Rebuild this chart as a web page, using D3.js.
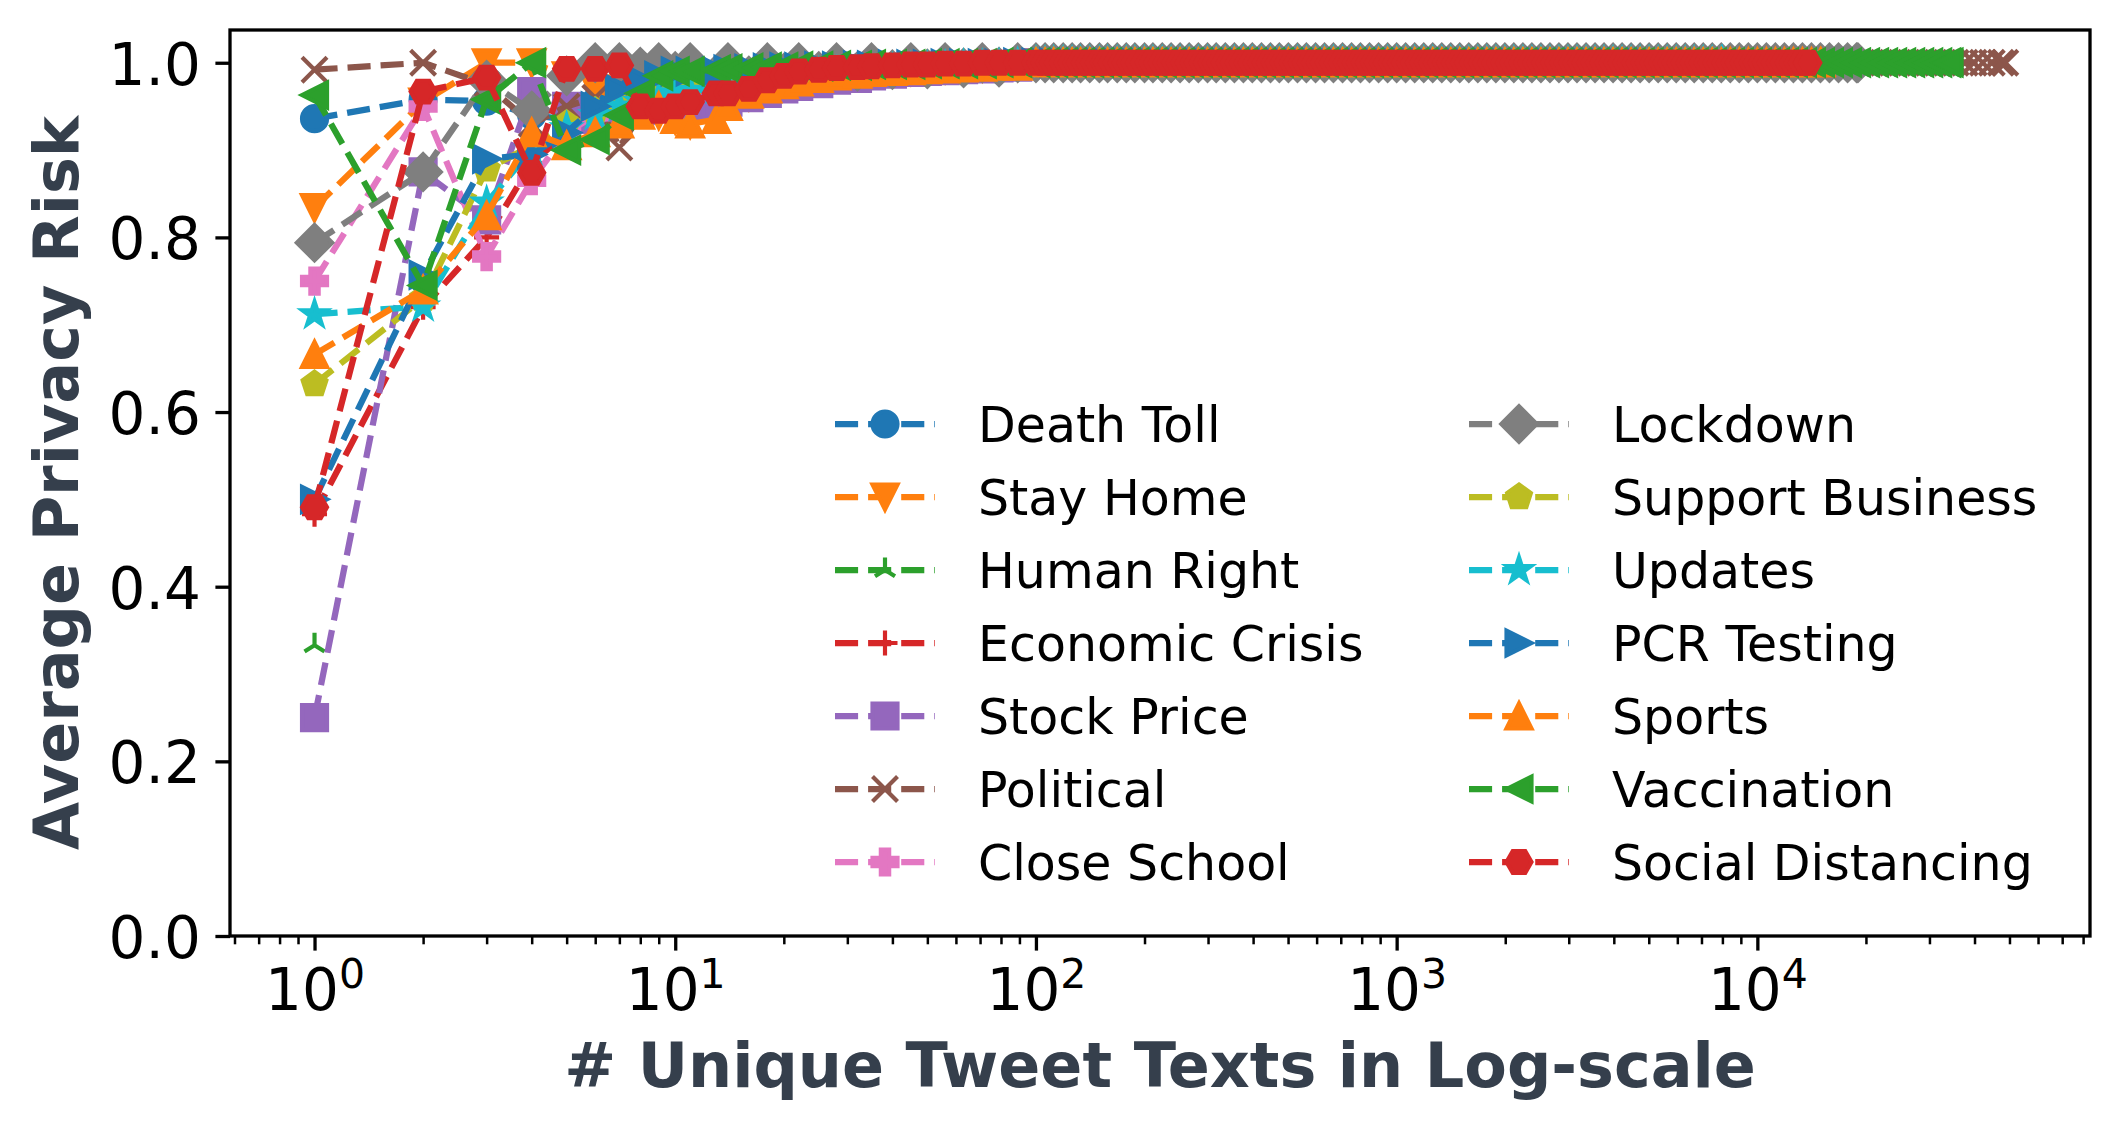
<!DOCTYPE html>
<html>
<head>
<meta charset="utf-8">
<title>Average privacy risk</title>
<script src="https://d3js.org/d3.v7.min.js"></script>
<style>
  body { margin: 0; background: #fff; }
  text { font-family: "DejaVu Sans", sans-serif; }
</style>
</head>
<body>
<script>

var topics = ["Death Toll", "Stay Home", "Human Right", "Economic Crisis", "Stock Price", "Political", "Close School",
              "Lockdown", "Support Business", "Updates", "PCR Testing", "Sports", "Vaccination", "Social Distancing"];
var colors = ["#1f77b4", "#ff7f0e", "#2ca02c", "#d62728", "#9467bd", "#8c564b", "#e377c2",
              "#7f7f7f", "#bcbd22", "#17becf", "#1f77b4", "#ff7f0e", "#2ca02c", "#d62728"];
var markers = ["o", "v", "2", "+", "s", "x", "P", "D", "p", "*", ">", "^", "<", "H"];

// # unique tweet texts, first part (read point by point)
var xHead = [1, 2, 3, 4, 5, 6, 7, 8, 9, 10, 11, 13, 14, 16, 18, 20, 22, 25, 28, 32, 35, 40, 45, 50, 56, 63, 71, 79, 89];

var deathToll        = [0.936, 0.958, 0.956, 0.94, 0.935, 0.955, 0.965, 0.97, 0.975, 0.98, 0.98, 0.985, 0.985, 0.988, 0.99, 0.99, 0.992, 0.992, 0.993, 0.994, 0.995, 0.995, 0.996, 0.996, 0.997, 0.997, 0.998, 0.998, 0.998];
var stayHome         = [0.834, 0.955, 1.0, 1.0, 0.985, 0.97, 0.96, 0.95, 0.94, 0.935, 0.93, 0.945, 0.955, 0.962, 0.97, 0.975, 0.978, 0.982, 0.985, 0.987, 0.989, 0.99, 0.991, 0.992, 0.993, 0.994, 0.995, 0.996, 0.996];
var humanRight       = [0.333];
var economicCrisis   = [0.483, 0.72, 0.80, 0.885, 0.92, 0.935, 0.945, 0.95, 0.955, 0.96, 0.962, 0.965, 0.968, 0.972, 0.975, 0.978, 0.98, 0.983, 0.985, 0.987, 0.988, 0.99, 0.991, 0.992, 0.993, 0.994, 0.995, 0.996, 0.996];
var stockPrice       = [0.25, 0.875, 0.82, 0.967, 0.95, 0.935, 0.94, 0.945, 0.95, 0.95, 0.95, 0.952, 0.955, 0.96, 0.965, 0.97, 0.973, 0.976, 0.98, 0.982, 0.985, 0.987, 0.989, 0.99, 0.991, 0.992, 0.993, 0.994, 0.995];
var political        = [0.992, 1.0, 0.975, 0.93, 0.95, 0.96, 0.903, 0.94, 0.955, 0.965, 0.97, 0.975, 0.978, 0.98, 0.983, 0.985, 0.987, 0.988, 0.99, 0.991, 0.992, 0.993, 0.994, 0.995, 0.995, 0.996, 0.997, 0.997, 0.998];
var closeSchool      = [0.75, 0.95, 0.778, 0.865, 0.92, 0.94, 0.95, 0.96, 0.965, 0.97, 0.972, 0.975, 0.978, 0.98, 0.982, 0.985, 0.987, 0.988, 0.99, 0.991, 0.992, 0.993, 0.994, 0.995, 0.995, 0.996, 0.997, 0.997, 0.998];
var lockdown         = [0.794, 0.875, 0.98, 0.945, 0.985, 1.0, 1.0, 0.995, 1.0, 0.99, 1.0, 0.985, 1.0, 0.985, 1.0, 0.988, 1.0, 0.99, 1.0, 0.99, 1.0, 0.992, 1.0, 0.993, 1.0, 0.994, 1.0, 0.995, 1.0];
var supportBusiness  = [0.632, 0.73, 0.878, 0.905, 0.93, 0.945, 0.955, 0.96, 0.965, 0.97, 0.972, 0.975, 0.978, 0.98, 0.983, 0.985, 0.987, 0.988, 0.99, 0.991, 0.992, 0.993, 0.994, 0.995, 0.995, 0.996, 0.997, 0.997, 0.998];
var updates          = [0.712, 0.721, 0.84, 0.90, 0.925, 0.94, 0.95, 0.955, 0.96, 0.965, 0.968, 0.97, 0.973, 0.976, 0.98, 0.982, 0.985, 0.987, 0.988, 0.99, 0.991, 0.992, 0.993, 0.994, 0.995, 0.996, 0.996, 0.997, 0.998];
var pcrTesting       = [0.50, 0.757, 0.89, 0.895, 0.92, 0.95, 0.97, 0.98, 0.985, 0.99, 0.99, 0.99, 0.992, 0.993, 0.994, 0.995, 0.995, 0.996, 0.996, 0.997, 0.997, 0.998, 0.998, 0.998, 0.999, 0.999, 0.999, 0.999, 1.0];
var sports           = [0.666, 0.74, 0.825, 0.92, 0.905, 0.92, 0.93, 0.94, 0.95, 0.935, 0.93, 0.935, 0.95, 0.964, 0.97, 0.975, 0.978, 0.982, 0.985, 0.987, 0.989, 0.99, 0.991, 0.992, 0.993, 0.994, 0.995, 0.996, 0.996];
var vaccination      = [0.963, 0.745, 0.958, 1.0, 0.90, 0.912, 0.94, 0.965, 0.985, 0.99, 0.99, 0.992, 0.993, 0.994, 0.995, 0.995, 0.996, 0.996, 0.997, 0.997, 0.998, 0.998, 0.998, 0.999, 0.999, 0.999, 0.999, 1.0, 1.0];
var socialDistancing = [0.491, 0.967, 0.983, 0.874, 0.993, 0.993, 0.997, 0.95, 0.945, 0.95, 0.955, 0.965, 0.965, 0.97, 0.98, 0.985, 0.99, 0.992, 0.994, 0.995, 0.996, 0.997, 0.998, 0.998, 0.999, 0.999, 1.0, 1.0, 1.0];

var seriesValues = [deathToll, stayHome, humanRight, economicCrisis, stockPrice, political, closeSchool,
                    lockdown, supportBusiness, updates, pcrTesting, sports, vaccination, socialDistancing];

// after ~100 texts every topic sits on the 1.0 line, sampled 40 per decade up to its last count
var xTail = [100, 106, 112, 119, 126, 133, 141, 150, 158, 168, 178, 188, 200, 211, 224, 237, 251, 266, 282, 299,
             316, 335, 355, 376, 398, 422, 447, 473, 501, 531, 562, 596, 631, 668, 708, 750, 794, 841, 891, 944,
             1000, 1059, 1122, 1189, 1259, 1334, 1413, 1496, 1585, 1679, 1778, 1884, 1995, 2113, 2239, 2371, 2512, 2661, 2818, 2985,
             3162, 3350, 3548, 3758, 3981, 4217, 4467, 4732, 5012, 5309, 5623, 5957, 6310, 6683, 7079, 7499, 7943, 8414, 8913, 9441,
             10000, 10593, 11220, 11885, 12589, 13335, 14125, 14962, 15849, 16788, 17783, 18836, 19953, 21135, 22387, 23714,
             25119, 26607, 28184, 29854, 31623, 33497, 35481, 37584, 39811, 42170, 44668, 47315];
var tailLevel = [1.0, 1.0, 1.0, 1.0, 1.0, 1.0, 1.0, 1.0, 1.0, 1.0, 1.0, 1.0, 1.0, 1.0];
var lastCount = [6000, 16000, 1, 4000, 3000, 48700, 2500, 19000, 1500, 8000, 5000, 15000, 34000, 13800];

var yTicks = [0.0, 0.2, 0.4, 0.6, 0.8, 1.0];
var xTicks = [1, 10, 100, 1000, 10000];
var xTickExp = ["0", "1", "2", "3", "4"];

var width = 2118,
    height = 1130;

var box = {left: 230, right: 2090, top: 30, bottom: 936};

var x = d3.scaleLog().domain([0.583, 83600]).range([box.left, box.right]),
    y = d3.scaleLinear().domain([0, 1.0375]).range([box.bottom, box.top]);

var lw = 6.25, ms = 25, mew = 4.17;
var r = ms / 2;

function poly(pts) {
  return "M" + pts.map(function(p) { return p[0].toFixed(2) + "," + p[1].toFixed(2); }).join("L") + "Z";
}

function regular(n, rad, start) {
  var pts = [];
  for (var i = 0; i < n; i++) {
    var a = (start + i * 360 / n) * Math.PI / 180;
    pts.push([rad * Math.cos(a), rad * Math.sin(a)]);
  }
  return pts;
}

function markerPath(m) {
  if (m == "o") return "M" + r + ",0A" + r + "," + r + " 0 1,1 " + (-r) + ",0A" + r + "," + r + " 0 1,1 " + r + ",0Z";
  if (m == "v") return poly([[0, r], [-r, -r], [r, -r]]);
  if (m == "^") return poly([[0, -r], [-r, r], [r, r]]);
  if (m == "<") return poly([[-r, 0], [r, -r], [r, r]]);
  if (m == ">") return poly([[r, 0], [-r, -r], [-r, r]]);
  if (m == "s") return poly([[-r, -r], [r, -r], [r, r], [-r, r]]);
  if (m == "D") { var d = r * Math.SQRT2; return poly([[0, -d], [d, 0], [0, d], [-d, 0]]); }
  if (m == "p") return poly(regular(5, r, -90));
  if (m == "H") return poly(regular(6, r, 0));
  if (m == "*") {
    var outer = regular(5, r, -90), inner = regular(5, r * 0.381966, -54), pts = [];
    for (var i = 0; i < 5; i++) { pts.push(outer[i]); pts.push(inner[i]); }
    return poly(pts);
  }
  if (m == "P") {
    var a = r / 3;
    return poly([[-a, -r], [a, -r], [a, -a], [r, -a], [r, a], [a, a], [a, r], [-a, r], [-a, a], [-r, a], [-r, -a], [-a, -a]]);
  }
  if (m == "+") return "M" + (-r) + ",0H" + r + "M0," + (-r) + "V" + r;
  if (m == "x") return "M" + (-r) + "," + (-r) + "L" + r + "," + r + "M" + (-r) + "," + r + "L" + r + "," + (-r);
  if (m == "2") return "M0,0V" + (-r) + "M0,0L" + (0.8 * r) + "," + (0.5 * r) + "M0,0L" + (-0.8 * r) + "," + (0.5 * r);
}

function styleMarker(sel, i) {
  var open = ["+", "x", "2"].indexOf(markers[i]) >= 0;
  sel.attr("d", markerPath(markers[i]))
     .attr("fill", open ? "none" : colors[i])
     .attr("stroke", colors[i])
     .attr("stroke-width", mew)
     .attr("stroke-linejoin", "miter");
}

var svg = d3.select("body")
            .append("svg")
            .attr("width", width)
            .attr("height", height)
            .style("display", "block");

svg.append("rect").attr("width", width).attr("height", height).attr("fill", "white");

svg.append("clipPath")
   .attr("id", "plotclip")
   .append("rect")
   .attr("x", box.left).attr("y", box.top)
   .attr("width", box.right - box.left).attr("height", box.bottom - box.top);

var line = d3.line()
    .x(function(d) { return x(d[0]); })
    .y(function(d) { return y(d[1]); });

var plotArea = svg.append("g").attr("clip-path", "url(#plotclip)");

seriesValues.forEach(function(vals, i) {
  var pts = vals.map(function(v, k) { return [xHead[k], v]; });
  var lastHead = xHead[vals.length - 1];
  if (lastCount[i] > lastHead) {
    xTail.forEach(function(xv) { if (xv > lastHead && xv < lastCount[i]) pts.push([xv, tailLevel[i]]); });
    pts.push([lastCount[i], tailLevel[i]]);
  }

  var g = plotArea.append("g");
  g.append("path")
   .datum(pts)
   .attr("d", line)
   .attr("fill", "none")
   .attr("stroke", colors[i])
   .attr("stroke-width", lw)
   .attr("stroke-dasharray", "23.1,10")
   .attr("stroke-linejoin", "round");

  g.selectAll("path.mark")
   .data(pts)
   .enter()
   .append("path")
   .attr("class", "mark")
   .attr("transform", function(d) { return "translate(" + x(d[0]) + "," + y(d[1]) + ")"; })
   .call(styleMarker, i);
});

// axes
var yAxis = svg.append("g")
   .attr("transform", "translate(" + box.left + ",0)")
   .call(d3.axisLeft(y).tickValues(yTicks).tickFormat(d3.format(".1f")).tickSize(14.6).tickPadding(14.6));
yAxis.select(".domain").remove();
yAxis.selectAll(".tick line").attr("stroke", "black").attr("stroke-width", 3.3);
yAxis.selectAll(".tick text").attr("font-size", 58).attr("fill", "black").attr("dy", "0.37em")
     .style("font-family", "'DejaVu Sans', sans-serif");

var minorTicks = [];
[0.1, 1, 10, 100, 1000, 10000].forEach(function(dec) {
  for (var k = 2; k <= 9; k++) minorTicks.push(k * dec);
});
minorTicks = minorTicks.filter(function(v) { return v >= x.domain()[0] && v <= x.domain()[1]; });

var xMinor = svg.append("g")
   .attr("transform", "translate(0," + box.bottom + ")")
   .call(d3.axisBottom(x).tickValues(minorTicks).tickFormat("").tickSize(8.3));
xMinor.select(".domain").remove();
xMinor.selectAll(".tick line").attr("stroke", "black").attr("stroke-width", 2.5);

var xAxis = svg.append("g")
   .attr("transform", "translate(0," + box.bottom + ")")
   .call(d3.axisBottom(x).tickValues(xTicks).tickFormat("").tickSize(14.6));
xAxis.select(".domain").remove();
xAxis.selectAll(".tick line").attr("stroke", "black").attr("stroke-width", 3.3);
xAxis.selectAll(".tick text").remove();
xAxis.selectAll(".tick").each(function(d, i) {
  var t = d3.select(this).append("text")
     .attr("y", 74)
     .attr("text-anchor", "middle")
     .attr("fill", "black")
     .attr("font-size", 58)
     .style("font-family", "'DejaVu Sans', sans-serif");
  t.append("tspan").text("10");
  t.append("tspan").attr("font-size", 41).attr("dy", -22).text(xTickExp[i]);
});

// frame
svg.append("rect")
   .attr("x", box.left).attr("y", box.top)
   .attr("width", box.right - box.left).attr("height", box.bottom - box.top)
   .attr("fill", "none")
   .attr("stroke", "black")
   .attr("stroke-width", 3.3);

// axis titles
svg.append("text")
   .attr("x", (box.left + box.right) / 2)
   .attr("y", 1087)
   .attr("text-anchor", "middle")
   .attr("font-size", 62)
   .attr("font-weight", "bold")
   .attr("fill", "#353f4c")
   .text("# Unique Tweet Texts in Log-scale");

svg.append("text")
   .attr("transform", "translate(78," + (box.top + box.bottom) / 2 + ") rotate(-90)")
   .attr("text-anchor", "middle")
   .attr("font-size", 62)
   .attr("font-weight", "bold")
   .attr("fill", "#353f4c")
   .text("Average Privacy Risk");

// legend, two columns of seven
var legend = svg.append("g");
topics.forEach(function(name, i) {
  var col = Math.floor(i / 7), row = i % 7;
  var lx = 835 + col * 634, ly = 424 + row * 73;
  var item = legend.append("g").attr("transform", "translate(" + lx + "," + ly + ")");
  item.append("line")
      .attr("x1", 0).attr("x2", 100).attr("y1", 0).attr("y2", 0)
      .attr("stroke", colors[i])
      .attr("stroke-width", lw)
      .attr("stroke-dasharray", "23.1,10");
  item.append("path")
      .attr("transform", "translate(50,0)")
      .call(styleMarker, i);
  item.append("text")
      .attr("x", 143)
      .attr("y", 18)
      .attr("font-size", 49)
      .attr("fill", "black")
      .text(name);
});

</script>
</body>
</html>
